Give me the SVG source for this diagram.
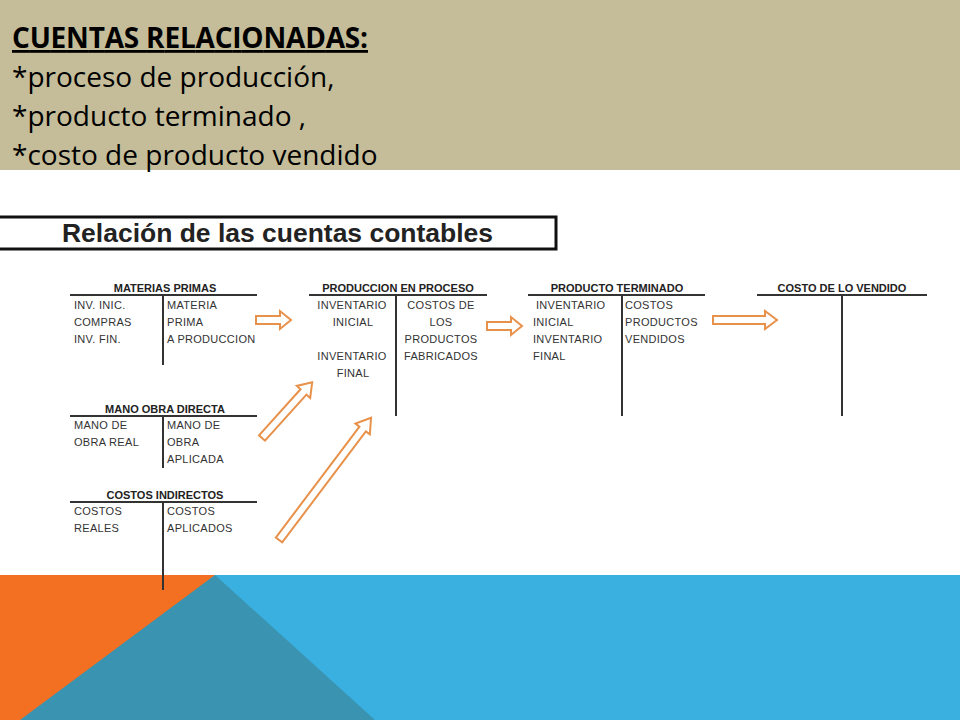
<svg xmlns="http://www.w3.org/2000/svg" width="960" height="720" viewBox="0 0 960 720">
<style>
.h{font-family:"Open Sans","Liberation Sans",sans-serif;font-size:28px;fill:#000}
.t{font-family:"Liberation Sans",sans-serif;font-size:11px;fill:#333;letter-spacing:0.3px}
.b{font-family:"Liberation Sans",sans-serif;font-size:11px;font-weight:bold;fill:#222}
.ln{stroke:#333;stroke-width:2;fill:none}
.ar{fill:#fff;stroke:#e8914a;stroke-width:2;stroke-linejoin:miter}
</style>
<rect width="960" height="720" fill="#fff"/>
<rect x="0" y="0" width="960" height="170" fill="#c5bd99"/>
<g id="header">
<text class="h" x="12" y="48" font-weight="bold" text-decoration="underline" textLength="356">CUENTAS RELACIONADAS:</text>
<text class="h" x="12" y="87">*proceso de producción,</text>
<text class="h" x="12" y="126">*producto terminado ,</text>
<text class="h" x="12" y="165">*costo de producto vendido</text>
</g>
<g id="bottom">
<rect x="0" y="575" width="960" height="145" fill="#3ab0e0"/>
<polygon points="215,575 375,720 0,720" fill="#3a93b0"/>
<polygon points="0,575 215,575 20,720 0,720" fill="#f36f21"/>
</g>
<g id="title">
<rect x="-5" y="217" width="561" height="32" fill="#fff" stroke="#111" stroke-width="3"/>
<text x="62" y="242" font-family="Liberation Sans,sans-serif" font-size="25" font-weight="bold" fill="#222" textLength="431" lengthAdjust="spacingAndGlyphs">Relación de las cuentas contables</text>
</g>
<g id="materias-primas">
<text class="b" x="165" y="292" text-anchor="middle">MATERIAS PRIMAS</text>
<path class="ln" d="M70 295H257M163 295V365"/>
<text class="t" x="74" y="309">INV. INIC.</text><text class="t" x="74" y="326">COMPRAS</text><text class="t" x="74" y="343">INV. FIN.</text>
<text class="t" x="167" y="309">MATERIA</text><text class="t" x="167" y="326">PRIMA</text><text class="t" x="167" y="343">A PRODUCCION</text>
</g>
<g id="mano-obra">
<text class="b" x="165" y="413" text-anchor="middle">MANO OBRA DIRECTA</text>
<path class="ln" d="M70 416H257M163 416V468"/>
<text class="t" x="74" y="429">MANO DE</text><text class="t" x="74" y="446">OBRA REAL</text>
<text class="t" x="167" y="429">MANO DE</text><text class="t" x="167" y="446">OBRA</text><text class="t" x="167" y="463">APLICADA</text>
</g>
<g id="costos-indirectos">
<text class="b" x="165" y="499" text-anchor="middle">COSTOS INDIRECTOS</text>
<path class="ln" d="M70 502H257M163 502V590"/>
<text class="t" x="74" y="515">COSTOS</text><text class="t" x="74" y="532">REALES</text>
<text class="t" x="167" y="515">COSTOS</text><text class="t" x="167" y="532">APLICADOS</text>
</g>
<g id="produccion">
<text class="b" x="398" y="292" text-anchor="middle">PRODUCCION EN PROCESO</text>
<path class="ln" d="M309 295H487M396 295V416"/>
<g class="t" text-anchor="middle"><text x="352" y="309">INVENTARIO</text><text x="353" y="326">INICIAL</text><text x="352" y="360">INVENTARIO</text><text x="353" y="377">FINAL</text>
<text x="441" y="309">COSTOS DE</text><text x="441" y="326">LOS</text><text x="441" y="343">PRODUCTOS</text><text x="441" y="360">FABRICADOS</text></g>
</g>
<g id="producto-terminado">
<text class="b" x="617" y="292" text-anchor="middle">PRODUCTO TERMINADO</text>
<path class="ln" d="M528 295H705M622 295V416"/>
<text class="t" x="536" y="309">INVENTARIO</text><text class="t" x="533" y="326">INICIAL</text><text class="t" x="533" y="343">INVENTARIO</text><text class="t" x="533" y="360">FINAL</text>
<text class="t" x="625" y="309">COSTOS</text><text class="t" x="625" y="326">PRODUCTOS</text><text class="t" x="625" y="343">VENDIDOS</text>
</g>
<g id="costo-vendido">
<text class="b" x="842" y="292" text-anchor="middle">COSTO DE LO VENDIDO</text>
<path class="ln" d="M757 295H927M842 295V416"/>
</g>
<g id="connectors">
<path class="ar" transform="translate(256,320)" d="M0,-4H24V-9L35,0L24,9V4H0Z"/>
<path class="ar" transform="translate(487,326)" d="M0,-4H24V-9L35,0L24,9V4H0Z"/>
<path class="ar" transform="translate(713,320)" d="M0,-4H52V-9L64,0L52,9V4H0Z"/>
<path class="ar" transform="translate(262,438) rotate(-48)" d="M0,-4H62V-9L75,0L62,9V4H0Z"/>
<path class="ar" transform="translate(279,540) rotate(-53)" d="M0,-4H139V-9L153,0L139,9V4H0Z"/>
</g>
</svg>
